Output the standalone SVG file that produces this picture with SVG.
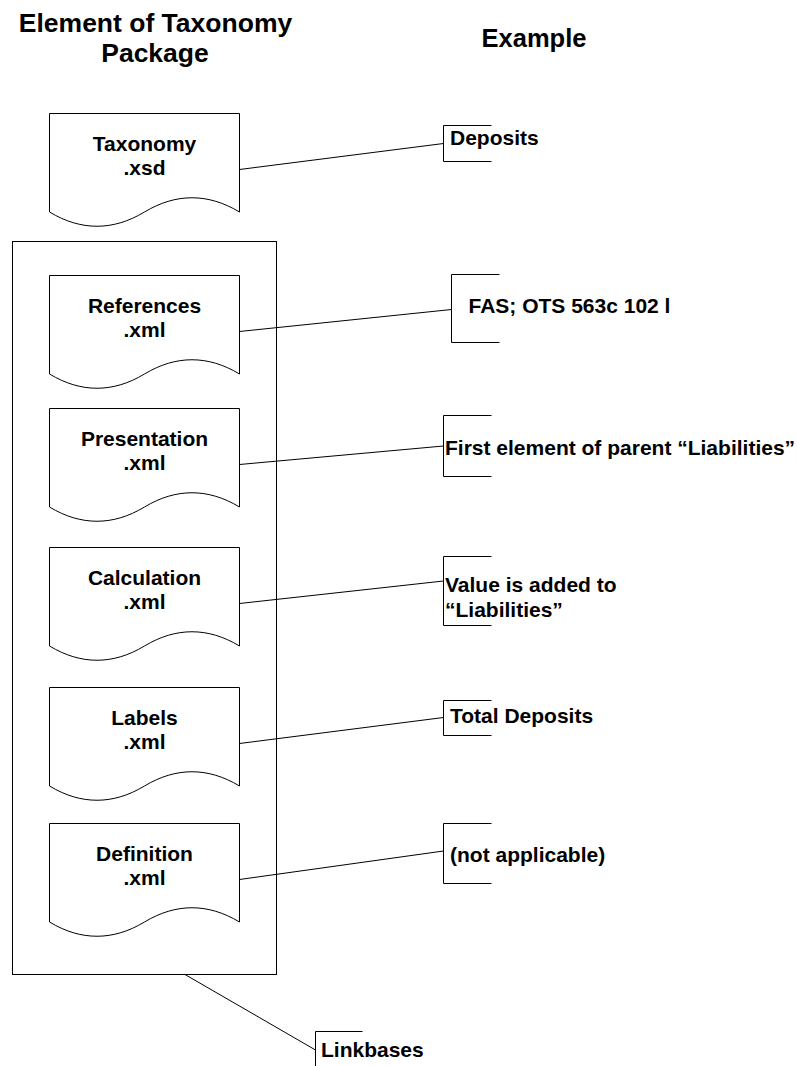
<svg xmlns="http://www.w3.org/2000/svg" width="797" height="1066" viewBox="0 0 797 1066">
<style>
.doc{fill:#fff;stroke:#000;stroke-width:1}
.frame{fill:none;stroke:#000;stroke-width:1}
.ln{fill:none;stroke:#000;stroke-width:1}
.t{font-family:"Liberation Sans",Arial,sans-serif;font-weight:bold;font-size:21px;fill:#000}
.h{font-family:"Liberation Sans",Arial,sans-serif;font-weight:bold;font-size:25.5px;fill:#000;text-anchor:middle}
.hl{font-size:26.5px}
.c{text-anchor:middle}
</style>
<rect width="797" height="1066" fill="#fff"/>
<g id="headers">
<text class="h hl" x="155.5" y="31.5">Element of Taxonomy</text>
<text class="h hl" x="155" y="61.5">Package</text>
<text class="h" x="534" y="47">Example</text>
</g>
<g id="linkbases-frame">
<rect class="frame" x="12.5" y="241.5" width="264" height="733"/>
</g>
<g id="taxonomy-xsd">
<path class="doc" d="M49.5,113.5 H239.5 V212 C208,193 176,193 144.5,212 C113,231 81,231 49.5,212 Z"/>
<text class="t c" x="144.5" y="151">Taxonomy</text>
<text class="t c" x="144.5" y="174.5">.xsd</text>
</g>
<g id="references-xml">
<path class="doc" d="M49.5,275.5 H239.5 V374 C208,355 176,355 144.5,374 C113,393 81,393 49.5,374 Z"/>
<text class="t c" x="144.5" y="313">References</text>
<text class="t c" x="144.5" y="336.5">.xml</text>
</g>
<g id="presentation-xml">
<path class="doc" d="M49.5,408.5 H239.5 V507 C208,488 176,488 144.5,507 C113,526 81,526 49.5,507 Z"/>
<text class="t c" x="144.5" y="446">Presentation</text>
<text class="t c" x="144.5" y="469.5">.xml</text>
</g>
<g id="calculation-xml">
<path class="doc" d="M49.5,547.5 H239.5 V646 C208,627 176,627 144.5,646 C113,665 81,665 49.5,646 Z"/>
<text class="t c" x="144.5" y="585">Calculation</text>
<text class="t c" x="144.5" y="608.5">.xml</text>
</g>
<g id="labels-xml">
<path class="doc" d="M49.5,687.5 H239.5 V786 C208,767 176,767 144.5,786 C113,805 81,805 49.5,786 Z"/>
<text class="t c" x="144.5" y="725">Labels</text>
<text class="t c" x="144.5" y="748.5">.xml</text>
</g>
<g id="definition-xml">
<path class="doc" d="M49.5,823.5 H239.5 V922 C208,903 176,903 144.5,922 C113,941 81,941 49.5,922 Z"/>
<text class="t c" x="144.5" y="861">Definition</text>
<text class="t c" x="144.5" y="884.5">.xml</text>
</g>
<g id="connectors">
<line class="ln" x1="239.5" y1="169.5" x2="443.5" y2="143.5"/>
<line class="ln" x1="239.5" y1="331.5" x2="451.5" y2="309.5"/>
<line class="ln" x1="239.5" y1="464.5" x2="443.5" y2="446"/>
<line class="ln" x1="239.5" y1="603.5" x2="443.5" y2="581"/>
<line class="ln" x1="239.5" y1="743.5" x2="443.5" y2="717.5"/>
<line class="ln" x1="239.5" y1="879.5" x2="443.5" y2="851"/>
<line class="ln" x1="185" y1="974.5" x2="315.5" y2="1050"/>
</g>
<g id="ann-deposits">
<path class="ln" d="M491.5,125.5 H443.5 V161.5 H491.5"/>
<text class="t" x="450" y="145">Deposits</text>
</g>
<g id="ann-references">
<path class="ln" d="M499.5,274.5 H451.5 V342.5 H499.5"/>
<text class="t" x="468.5" y="312.5">FAS; OTS 563c 102 l</text>
</g>
<g id="ann-presentation">
<path class="ln" d="M491.5,415.5 H443.5 V476.5 H491.5"/>
<text class="t" x="445" y="455">First element of parent “Liabilities”</text>
</g>
<g id="ann-calculation">
<path class="ln" d="M491.5,556.5 H443.5 V625.5 H491.5"/>
<text class="t" x="445" y="591.5">Value is added to</text>
<text class="t" x="445" y="617">“Liabilities”</text>
</g>
<g id="ann-labels">
<path class="ln" d="M491.5,700.5 H443.5 V735.5 H491.5"/>
<text class="t" x="450" y="723">Total Deposits</text>
</g>
<g id="ann-definition">
<path class="ln" d="M491.5,823.5 H443.5 V883.5 H491.5"/>
<text class="t" x="450" y="862">(not applicable)</text>
</g>
<g id="ann-linkbases">
<path class="ln" d="M362.5,1031.5 H315.5 V1068"/>
<text class="t" x="321" y="1056.5">Linkbases</text>
</g>
</svg>
